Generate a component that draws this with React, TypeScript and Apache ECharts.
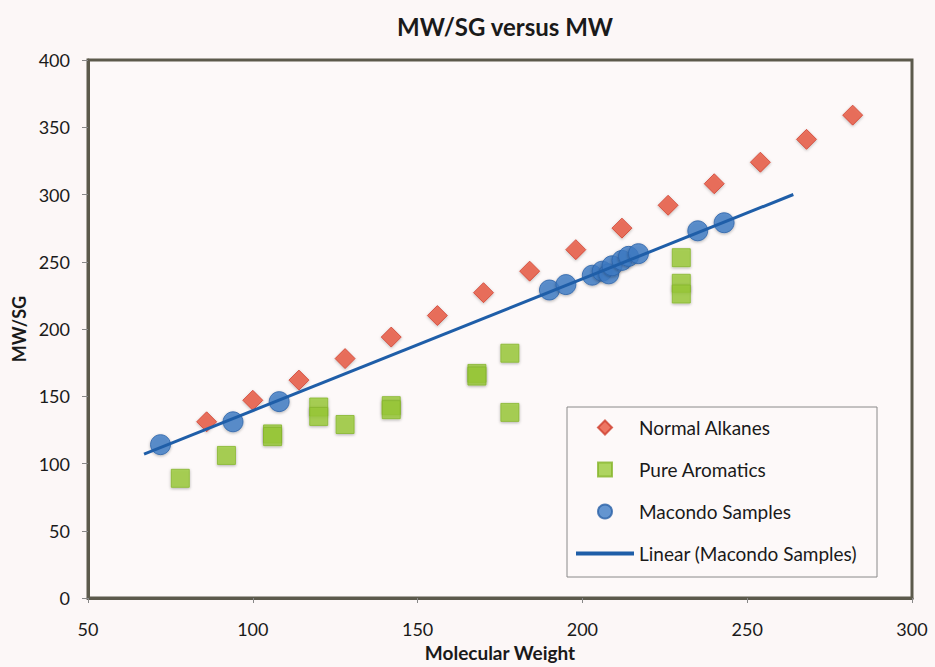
import React, { useEffect, useRef } from "react";
import * as echarts from "echarts";

const alkaneMW = [86, 100, 114, 128, 142, 156, 170, 184, 198, 212, 226, 240, 254, 268, 282];
const alkaneRatio = [131, 147, 162, 178, 194, 210, 227, 243, 259, 275, 292, 308, 324, 341, 359];

const aromaticMW = [78, 92, 106, 106, 120, 120, 128, 142, 142, 168, 168, 178, 178, 230, 230, 230];
const aromaticRatio = [89, 106, 122, 120, 142, 135, 129, 143, 140, 167, 165, 182, 138, 253, 234, 226];

const macondoMW = [72, 94, 108, 190, 195, 203, 206, 208, 209, 212, 214, 217, 235, 243];
const macondoRatio = [114, 131, 146, 229, 233, 240, 243, 241, 247, 251, 254, 256, 273, 279];

const trendMW = [67, 264];
const trendRatio = [107, 300];

const xTicks = [50, 300, 50];
const yTicks = [0, 400, 50];

const zip = (a: number[], b: number[]) => a.map((v, i) => [v, b[i]]);

const FONT = "Lato, 'Noto Sans', sans-serif";
const BORDER = "#5c5a4c";

export default function App() {
  const ref = useRef<HTMLDivElement>(null);
  useEffect(() => {
    if (!ref.current) return;
    const chart = echarts.init(ref.current, null, { renderer: "svg" });
    chart.setOption({
      animation: false,
      backgroundColor: "#fcf7f7",
      textStyle: { fontFamily: FONT },
      title: {
        text: "MW/SG versus MW",
        left: 500,
        top: 9,
        textAlign: "center",
        textStyle: { fontFamily: FONT, fontSize: 24, fontWeight: "bold", color: "#1a1a1a" },
      },
      grid: {
        left: 88,
        right: 23,
        top: 60,
        bottom: 69,
        outerBoundsMode: "none",
        containLabel: false,
        show: true,
        borderColor: BORDER,
        borderWidth: 3,
        backgroundColor: "#fdf9f9",
      },
      xAxis: {
        type: "value",
        min: xTicks[0],
        max: xTicks[1],
        interval: xTicks[2],
        name: "Molecular Weight",
        nameLocation: "middle",
        nameGap: 45,
        nameTextStyle: { fontFamily: FONT, fontSize: 19, fontWeight: "bold", color: "#1a1a1a" },
        axisLine: { show: true, lineStyle: { color: BORDER, width: 3 } },
        axisTick: { show: true, length: 5, lineStyle: { color: "#888" } },
        axisLabel: { fontFamily: FONT, fontSize: 18, color: "#1a1a1a", margin: 22 },
        splitLine: { show: false },
      },
      yAxis: {
        type: "value",
        min: yTicks[0],
        max: yTicks[1],
        interval: yTicks[2],
        name: "MW/SG",
        nameLocation: "middle",
        nameGap: 57,
        nameTextStyle: { fontFamily: FONT, fontSize: 18, fontWeight: "bold", color: "#1a1a1a" },
        axisLine: { show: true, lineStyle: { color: BORDER, width: 3 } },
        axisTick: { show: true, length: 6, lineStyle: { color: "#888" } },
        axisLabel: { fontFamily: FONT, fontSize: 18, color: "#1a1a1a", margin: 18 },
        splitLine: { show: false },
      },
      graphic: [
        {
          type: "rect",
          z: 3,
          shape: { x: 567, y: 407, width: 310, height: 170 },
          style: { fill: "#fdf9f9", stroke: "#8a8a8a", lineWidth: 1 },
        },
      ],
      legend: {
        orient: "vertical",
        left: 576,
        top: 418,
        z: 10,
        itemWidth: 58,
        itemHeight: 14,
        itemGap: 23,
        padding: 0,
        textStyle: { fontFamily: FONT, fontSize: 19, color: "#1a1a1a" },
        data: [
          { name: "Normal Alkanes", icon: "path://M6,0 L12,6 L6,12 L0,6 Z" },
          { name: "Pure Aromatics", icon: "path://M0,0 L12,0 L12,12 L0,12 Z" },
          { name: "Macondo Samples", icon: "circle" },
          { name: "Linear (Macondo Samples)", icon: "path://M0,0 L60,0 L60,4 L0,4 Z" },
        ],
      },
      series: [
        {
          name: "Normal Alkanes",
          type: "scatter",
          symbol: "diamond",
          symbolSize: 20,
          data: zip(alkaneMW, alkaneRatio),
          itemStyle: {
            color: "#e8553d",
            borderColor: "#d04030",
            borderWidth: 1,
            shadowBlur: 3,
            shadowColor: "rgba(0,0,0,0.3)",
            shadowOffsetY: 1,
          },
          z: 2,
        },
        {
          name: "Pure Aromatics",
          type: "scatter",
          symbol: "rect",
          symbolSize: 18,
          data: zip(aromaticMW, aromaticRatio),
          itemStyle: {
            color: "#9acb3a",
            borderColor: "#86b52c",
            borderWidth: 1,
            shadowBlur: 3,
            shadowColor: "rgba(0,0,0,0.35)",
            shadowOffsetY: 1,
          },
          z: 2,
        },
        {
          name: "Linear (Macondo Samples)",
          type: "line",
          data: zip(trendMW, trendRatio),
          symbol: "none",
          showSymbol: false,
          color: "#1f5ea8",
          lineStyle: { color: "#1f5ea8", width: 3 },
          z: 3,
        },
        {
          name: "Macondo Samples",
          type: "scatter",
          symbol: "circle",
          symbolSize: 20,
          data: zip(macondoMW, macondoRatio),
          itemStyle: {
            color: "#3d7cc6",
            borderColor: "#2a62a8",
            borderWidth: 1,
            shadowBlur: 3,
            shadowColor: "rgba(0,0,0,0.35)",
            shadowOffsetY: 1,
          },
          z: 2,
        },
      ],
    });
    return () => chart.dispose();
  }, []);
  return (
    <div
      ref={ref}
      style={{ position: "fixed", left: 0, top: 0, width: 935, height: 667 }}
    />
  );
}
